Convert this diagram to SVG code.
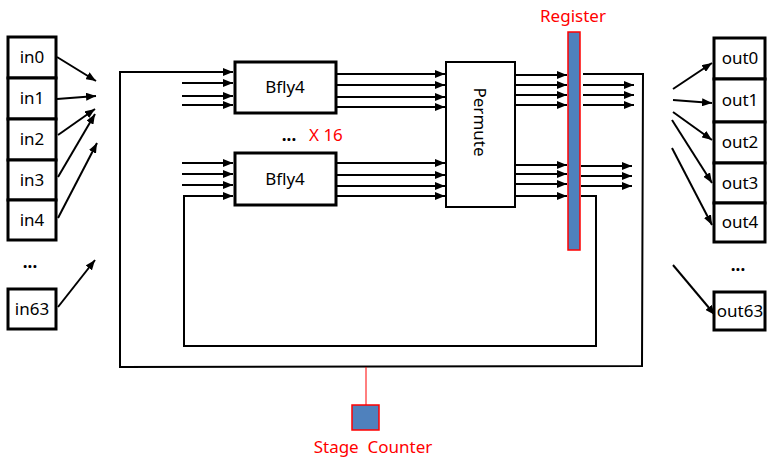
<svg xmlns="http://www.w3.org/2000/svg" width="777" height="466" viewBox="0 0 777 466">
<style>
.box{fill:#fff;stroke:#000;stroke-width:3}
.pbox{fill:#fff;stroke:#000;stroke-width:2}
.t{font-family:"Noto Sans","Liberation Sans",sans-serif;font-size:17px;fill:#000}
.d{font-family:"Noto Sans","Liberation Sans",sans-serif;font-size:17px;font-weight:bold;fill:#000}
.r{font-family:"Noto Sans","Liberation Sans",sans-serif;font-size:17px;fill:#ff0000}
.a{stroke:#000;stroke-width:2;fill:none;marker-end:url(#ah)}
.reg{fill:#4f81bd;stroke:#ff0000;stroke-width:1.5}
</style>
<defs>
<marker id="ah" markerWidth="10" markerHeight="8" refX="10" refY="4" orient="auto" markerUnits="userSpaceOnUse">
<path d="M0,0 L10,4 L0,8 Z" fill="#000"/>
</marker>
</defs>
<rect width="777" height="466" fill="#fff"/>
<g id="connectors">
<line class="a" x1="57" y1="57" x2="96" y2="81"/>
<line class="a" x1="57" y1="99" x2="96" y2="96"/>
<line class="a" x1="58" y1="135" x2="95" y2="109"/>
<line class="a" x1="58" y1="177" x2="95" y2="114"/>
<line class="a" x1="58" y1="218" x2="97" y2="143"/>
<line class="a" x1="58" y1="307" x2="95" y2="260"/>
<polyline class="a" points="583,74 643,74 642,366 120,367 120,72 233,72"/>
<polyline class="a" points="581,196 596,196 596,346 184,346 184,196 233,196"/>
<line class="a" x1="182" y1="83" x2="233" y2="83"/>
<line class="a" x1="182" y1="96" x2="233" y2="96"/>
<line class="a" x1="182" y1="105" x2="233" y2="105"/>
<line class="a" x1="182" y1="163" x2="233" y2="163"/>
<line class="a" x1="182" y1="174" x2="233" y2="174"/>
<line class="a" x1="182" y1="185" x2="233" y2="185"/>
<line class="a" x1="336" y1="74" x2="445" y2="74"/>
<line class="a" x1="336" y1="85" x2="445" y2="85"/>
<line class="a" x1="336" y1="97" x2="445" y2="97"/>
<line class="a" x1="336" y1="107" x2="445" y2="107"/>
<line class="a" x1="336" y1="163" x2="445" y2="163"/>
<line class="a" x1="336" y1="175" x2="445" y2="175"/>
<line class="a" x1="336" y1="186" x2="445" y2="186"/>
<line class="a" x1="336" y1="196" x2="445" y2="196"/>
<line class="a" x1="515" y1="75" x2="567" y2="75"/>
<line class="a" x1="515" y1="85" x2="567" y2="85"/>
<line class="a" x1="515" y1="95" x2="567" y2="95"/>
<line class="a" x1="515" y1="105" x2="567" y2="105"/>
<line class="a" x1="515" y1="165" x2="567" y2="165"/>
<line class="a" x1="515" y1="174" x2="567" y2="174"/>
<line class="a" x1="515" y1="184" x2="567" y2="184"/>
<line class="a" x1="515" y1="196" x2="567" y2="196"/>
<line class="a" x1="583" y1="85" x2="634" y2="85"/>
<line class="a" x1="583" y1="95" x2="634" y2="95"/>
<line class="a" x1="583" y1="105" x2="634" y2="105"/>
<line class="a" x1="581" y1="166" x2="632" y2="166"/>
<line class="a" x1="581" y1="176" x2="632" y2="176"/>
<line class="a" x1="581" y1="186" x2="632" y2="186"/>
<line class="a" x1="673" y1="89" x2="712" y2="63"/>
<line class="a" x1="673" y1="100" x2="712" y2="103"/>
<line class="a" x1="673" y1="112" x2="712" y2="140"/>
<line class="a" x1="672" y1="120" x2="712" y2="183"/>
<line class="a" x1="672" y1="148" x2="712" y2="225"/>
<line class="a" x1="673" y1="265" x2="715" y2="315"/>
<line x1="366" y1="367" x2="366" y2="405" stroke="#ff0000" stroke-width="1"/>
</g>
<g id="inputs">
<g id="in0"><rect class="box" x="8" y="37" width="48" height="41"/><text class="t" x="32" y="63" text-anchor="middle">in0</text></g>
<g id="in1"><rect class="box" x="8" y="78" width="48" height="41"/><text class="t" x="32" y="104" text-anchor="middle">in1</text></g>
<g id="in2"><rect class="box" x="8" y="119" width="48" height="41"/><text class="t" x="32" y="145" text-anchor="middle">in2</text></g>
<g id="in3"><rect class="box" x="8" y="160" width="48" height="40"/><text class="t" x="32" y="186" text-anchor="middle">in3</text></g>
<g id="in4"><rect class="box" x="8" y="200" width="48" height="40"/><text class="t" x="32" y="226" text-anchor="middle">in4</text></g>
<text class="d" x="30" y="268" text-anchor="middle">...</text>
<g id="in63"><rect class="box" x="8" y="289" width="48" height="40"/><text class="t" x="32" y="315" text-anchor="middle">in63</text></g>
</g>
<g id="bfly4_top"><rect class="box" x="235" y="62" width="101" height="51"/><text class="t" x="285" y="93" text-anchor="middle">Bfly4</text></g>
<g id="bfly4_bottom"><rect class="box" x="235" y="153" width="101" height="52"/><text class="t" x="285" y="185" text-anchor="middle">Bfly4</text></g>
<text class="d" x="289" y="141" text-anchor="middle">...</text>
<text class="r" x="309" y="141" font-size="14">X 16</text>
<g id="permute"><rect class="pbox" x="446" y="62" width="69" height="145"/><text class="t" font-size="14" transform="translate(474,122) rotate(90)" text-anchor="middle">Permute</text></g>
<g id="register"><rect class="reg" x="568" y="32" width="12" height="218"/><text class="r" x="573" y="22" text-anchor="middle">Register</text></g>
<g id="outputs">
<g id="out0"><rect class="box" x="714" y="38" width="51" height="41"/><text class="t" x="740" y="64" text-anchor="middle">out0</text></g>
<g id="out1"><rect class="box" x="714" y="79" width="51" height="43"/><text class="t" x="740" y="106" text-anchor="middle">out1</text></g>
<g id="out2"><rect class="box" x="714" y="122" width="51" height="41"/><text class="t" x="740" y="148" text-anchor="middle">out2</text></g>
<g id="out3"><rect class="box" x="714" y="163" width="51" height="40"/><text class="t" x="740" y="189" text-anchor="middle">out3</text></g>
<g id="out4"><rect class="box" x="714" y="203" width="51" height="39"/><text class="t" x="740" y="228" text-anchor="middle">out4</text></g>
<text class="d" x="738" y="271" text-anchor="middle">...</text>
<g id="out63"><rect class="box" x="714" y="292" width="51" height="38"/><text class="t" x="740" y="317" text-anchor="middle">out63</text></g>
</g>
<g id="stage_counter"><rect class="reg" x="352" y="405" width="27" height="25"/><text class="r" x="373" y="453" text-anchor="middle" font-size="18" style="white-space:pre">Stage  Counter</text></g>
</svg>
